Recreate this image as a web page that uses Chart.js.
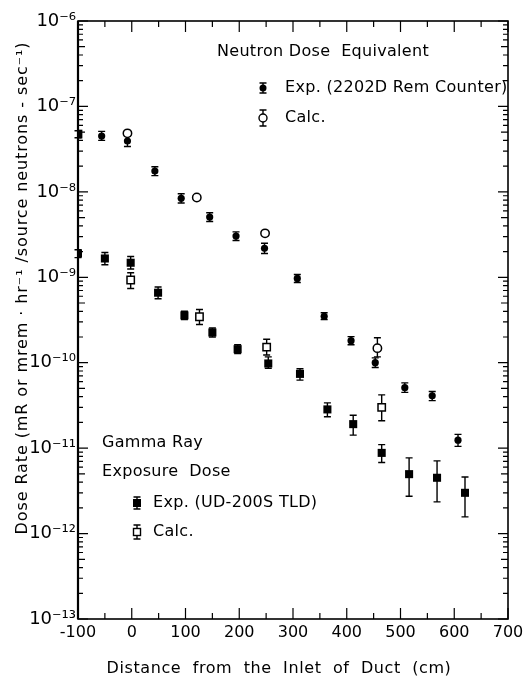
<!DOCTYPE html>
<html><head><meta charset="utf-8">
<script src="https://cdn.jsdelivr.net/npm/chart.js@4.4.1/dist/chart.umd.min.js"></script>
<style>html,body{margin:0;padding:0;background:#fff}#wrap{width:530px;height:685px;position:relative}</style>
</head><body><div id="wrap"><canvas id="c" width="530" height="685"></canvas></div>
<script>
// ---- tick labels ----
const yDecadeValues = [1e-13, 1e-12, 1e-11, 1e-10, 1e-9, 1e-8, 1e-7, 1e-6];
const yDecadeLabels = ['10⁻¹³', '10⁻¹²', '10⁻¹¹', '10⁻¹⁰', '10⁻⁹', '10⁻⁸', '10⁻⁷', '10⁻⁶'];
const xTickValues = [-100, 0, 100, 200, 300, 400, 500, 600, 700];
const xTickLabels = ['-100', '0', '100', '200', '300', '400', '500', '600', '700'];

// ---- Neutron dose equivalent, experiment (2202D Rem Counter) ----
const neutronExpX  = [-100, -56, -8, 43, 92, 145, 194, 247, 308, 358, 408, 453, 508, 559, 607];
const neutronExpY  = [4.75e-8, 4.5e-8, 3.94e-8, 1.75e-8, 8.4e-9, 5.07e-9, 3.04e-9, 2.18e-9, 9.7e-10, 3.5e-10, 1.81e-10, 1.0e-10, 5.1e-11, 4.1e-11, 1.24e-11];
const neutronExpLo = [4.3e-8, 4.0e-8, 3.4e-8, 1.55e-8, 7.4e-9, 4.5e-9, 2.7e-9, 1.9e-9, 8.7e-10, 3.2e-10, 1.62e-10, 8.8e-11, 4.5e-11, 3.6e-11, 1.05e-11];
const neutronExpHi = [5.2e-8, 5.1e-8, 4.5e-8, 1.97e-8, 9.5e-9, 5.7e-9, 3.4e-9, 2.5e-9, 1.08e-9, 3.85e-10, 2.02e-10, 1.14e-10, 5.8e-11, 4.6e-11, 1.45e-11];

// ---- Neutron dose equivalent, calculation ----
const neutronCalcX  = [-8, 121, 248, 457];
const neutronCalcY  = [4.84e-8, 8.6e-9, 3.27e-9, 1.48e-10];
const neutronCalcLo = [null, null, null, 1.17e-10];
const neutronCalcHi = [null, null, null, 1.96e-10];

// ---- Gamma ray exposure dose, experiment (UD-200S TLD) ----
const gammaExpX  = [-100, -50, -2, 49, 98, 150, 197, 254, 313, 364, 412, 465, 516, 568, 620];
const gammaExpY  = [1.9e-9, 1.66e-9, 1.48e-9, 6.6e-10, 3.58e-10, 2.26e-10, 1.44e-10, 9.8e-11, 7.4e-11, 2.84e-11, 1.91e-11, 8.8e-12, 4.96e-12, 4.5e-12, 3.0e-12];
const gammaExpLo = [1.7e-9, 1.4e-9, 1.25e-9, 5.6e-10, 3.2e-10, 2.0e-10, 1.28e-10, 8.6e-11, 6.25e-11, 2.33e-11, 1.42e-11, 6.8e-12, 2.74e-12, 2.35e-12, 1.57e-12];
const gammaExpHi = [2.1e-9, 1.95e-9, 1.75e-9, 7.7e-10, 4.0e-10, 2.55e-10, 1.62e-10, 1.17e-10, 8.5e-11, 3.39e-11, 2.43e-11, 1.1e-11, 7.7e-12, 7.1e-12, 4.6e-12];

// ---- Gamma ray exposure dose, calculation ----
const gammaCalcX  = [-2, 126, 251, 465];
const gammaCalcY  = [9.3e-10, 3.45e-10, 1.52e-10, 3.0e-11];
const gammaCalcLo = [7.4e-10, 2.8e-10, 1.23e-10, 2.09e-11];
const gammaCalcHi = [1.13e-9, 4.2e-10, 1.88e-10, 4.2e-11];

// ---- texts ----
const yTitle = 'Dose Rate (mR or mrem · hr⁻¹ /source neutrons - sec⁻¹)';
const xTitle = 'Distance  from  the  Inlet  of  Duct  (cm)';
const neutronHeading = 'Neutron Dose  Equivalent';
const neutronExpLabel = 'Exp. (2202D Rem Counter)';
const gammaHeading1 = 'Gamma Ray';
const gammaHeading2 = 'Exposure  Dose';
const gammaExpLabel = 'Exp. (UD-200S TLD)';
const calcLabel = 'Calc.';

const FONT = '"DejaVu Sans", sans-serif';

function pts(xs, ys) { return xs.map((x, i) => ({x: x, y: ys[i]})); }

const errorBars = {
  id: 'errorBars',
  beforeDatasetsDraw(chart) {
    const ctx = chart.ctx, xs = chart.scales.x, ys = chart.scales.y;
    ctx.save();
    ctx.strokeStyle = '#000';
    ctx.lineWidth = 1.4;
    chart.data.datasets.forEach((ds) => {
      if (!ds.errLo) return;
      ds.data.forEach((p, i) => {
        const lo = ds.errLo[i], hi = ds.errHi[i];
        if (lo == null || hi == null) return;
        const px = xs.getPixelForValue(p.x);
        const pl = ys.getPixelForValue(lo), ph = ys.getPixelForValue(hi);
        ctx.beginPath();
        ctx.moveTo(px, pl); ctx.lineTo(px, ph);
        ctx.moveTo(px - 3.5, pl); ctx.lineTo(px + 3.5, pl);
        ctx.moveTo(px - 3.5, ph); ctx.lineTo(px + 3.5, ph);
        ctx.stroke();
      });
    });
    ctx.restore();
  }
};

const frameTicks = {
  id: 'frameTicks',
  afterDatasetsDraw(chart) {
    const ctx = chart.ctx, a = chart.chartArea, xs = chart.scales.x, ys = chart.scales.y;
    ctx.save();
    ctx.strokeStyle = '#000';
    ctx.lineWidth = 1.6;
    ctx.strokeRect(a.left, a.top, a.right - a.left, a.bottom - a.top);
    ctx.lineWidth = 2.2;
    ctx.beginPath(); ctx.moveTo(a.left, a.top); ctx.lineTo(a.left, a.bottom); ctx.stroke();
    ctx.lineWidth = 1.2;
    ctx.beginPath();
    for (let d = -13; d <= -6; d++) {
      for (let m = 1; m <= 9; m++) {
        const v = m * Math.pow(10, d);
        if (v > 1.0001e-6) continue;
        const py = ys.getPixelForValue(v);
        const len = m === 1 ? 10 : (m === 5 ? 7 : 5);
        ctx.moveTo(a.left, py); ctx.lineTo(a.left + len, py);
        ctx.moveTo(a.right, py); ctx.lineTo(a.right - len, py);
      }
    }
    for (let v = -100; v <= 700; v += 50) {
      const px = xs.getPixelForValue(v);
      const len = (v % 100 === 0) ? 11 : 6;
      ctx.moveTo(px, a.bottom); ctx.lineTo(px, a.bottom - len);
      ctx.moveTo(px, a.top); ctx.lineTo(px, a.top + len);
    }
    ctx.stroke();
    ctx.restore();
  },
  afterDraw(chart) {
    const ctx = chart.ctx;
    ctx.save();
    ctx.fillStyle = '#000';
    ctx.textBaseline = 'middle';
    ctx.font = '16px ' + FONT;
    ctx.letterSpacing = '0.6px';
    ctx.textAlign = 'center';
    ctx.fillText(xTitle, 279, 669);
    ctx.save();
    ctx.translate(23, 288);
    ctx.rotate(-Math.PI / 2);
    ctx.letterSpacing = '0.9px';
    ctx.fillText(yTitle, 0, 0);
    ctx.restore();
    ctx.textAlign = 'left';
    ctx.font = '16px ' + FONT;
    ctx.letterSpacing = '0.3px';
    ctx.fillText(neutronHeading, 217, 52);
    ctx.fillText(neutronExpLabel, 285, 88);
    ctx.fillText(calcLabel, 285, 118);
    ctx.fillText(gammaHeading1, 102, 443);
    ctx.fillText(gammaHeading2, 102, 472);
    ctx.fillText(gammaExpLabel, 153, 503);
    ctx.fillText(calcLabel, 153, 532);
    ctx.lineWidth = 1.4;
    ctx.strokeStyle = '#000';
    function ebar(x, y, h) {
      ctx.beginPath();
      ctx.moveTo(x, y - h); ctx.lineTo(x, y + h);
      ctx.moveTo(x - 3.5, y - h); ctx.lineTo(x + 3.5, y - h);
      ctx.moveTo(x - 3.5, y + h); ctx.lineTo(x + 3.5, y + h);
      ctx.stroke();
    }
    ebar(263, 88, 5);
    ctx.beginPath(); ctx.arc(263, 88, 3.5, 0, Math.PI * 2); ctx.fill();
    ebar(263, 118, 8);
    ctx.beginPath(); ctx.arc(263, 118, 4, 0, Math.PI * 2); ctx.fillStyle = '#fff'; ctx.fill(); ctx.fillStyle = '#000'; ctx.stroke();
    ebar(137, 503, 6);
    ctx.fillRect(133, 499, 8, 8);
    ebar(137, 532, 7);
    ctx.fillStyle = '#fff'; ctx.fillRect(133.5, 528.5, 7, 7); ctx.fillStyle = '#000';
    ctx.strokeRect(133.5, 528.5, 7, 7);
    ctx.restore();
  }
};

new Chart(document.getElementById('c'), {
  type: 'scatter',
  data: {
    datasets: [
      { label: 'Neutron Exp. (2202D Rem Counter)', data: pts(neutronExpX, neutronExpY), errLo: neutronExpLo, errHi: neutronExpHi,
        pointStyle: (c) => c.dataIndex === 0 ? 'rect' : 'circle',
        pointRadius: (c) => c.dataIndex === 0 ? 6.2 : 3.6,
        backgroundColor: '#000', borderColor: '#000', borderWidth: 0 },
      { label: 'Neutron Calc.', data: pts(neutronCalcX, neutronCalcY), errLo: neutronCalcLo, errHi: neutronCalcHi,
        pointStyle: 'circle', pointRadius: 4.2, backgroundColor: '#fff', borderColor: '#000', borderWidth: 1.5 },
      { label: 'Gamma Exp. (UD-200S TLD)', data: pts(gammaExpX, gammaExpY), errLo: gammaExpLo, errHi: gammaExpHi,
        pointStyle: 'rect', pointRadius: 5.7, backgroundColor: '#000', borderColor: '#000', borderWidth: 0 },
      { label: 'Gamma Calc.', data: pts(gammaCalcX, gammaCalcY), errLo: gammaCalcLo, errHi: gammaCalcHi,
        pointStyle: 'rect', pointRadius: 5.2, backgroundColor: '#fff', borderColor: '#000', borderWidth: 1.5 }
    ]
  },
  options: {
    responsive: false,
    animation: false,
    devicePixelRatio: 1,
    layout: { padding: { top: 21, right: 22, left: 0, bottom: 0 } },
    plugins: { legend: { display: false }, tooltip: { enabled: false }, title: { display: false } },
    scales: {
      x: {
        type: 'linear', min: -100, max: 700,
        afterFit(s) { s.height = 66; },
        afterBuildTicks(s) { s.ticks = xTickValues.map(v => ({value: v})); },
        grid: { display: false, drawTicks: false },
        border: { display: false },
        ticks: { padding: 4, color: '#000', font: { family: FONT, size: 16 }, maxRotation: 0, autoSkip: false,
          callback: (v) => { const i = xTickValues.indexOf(v); return i >= 0 ? xTickLabels[i] : ''; } }
      },
      y: {
        type: 'logarithmic', min: 1e-13, max: 1e-6,
        afterFit(s) { s.width = 78; },
        afterBuildTicks(s) { s.ticks = yDecadeValues.map(v => ({value: v})); },
        grid: { display: false, drawTicks: false },
        border: { display: false },
        ticks: { padding: 2, color: '#000', font: { family: FONT, size: 18 }, autoSkip: false,
          callback: (v) => { const i = yDecadeValues.findIndex(d => Math.abs(Math.log10(d) - Math.log10(v)) < 1e-6); return i >= 0 ? yDecadeLabels[i] : ''; } }
      }
    }
  },
  plugins: [errorBars, frameTicks]
});
</script>
</body></html>
